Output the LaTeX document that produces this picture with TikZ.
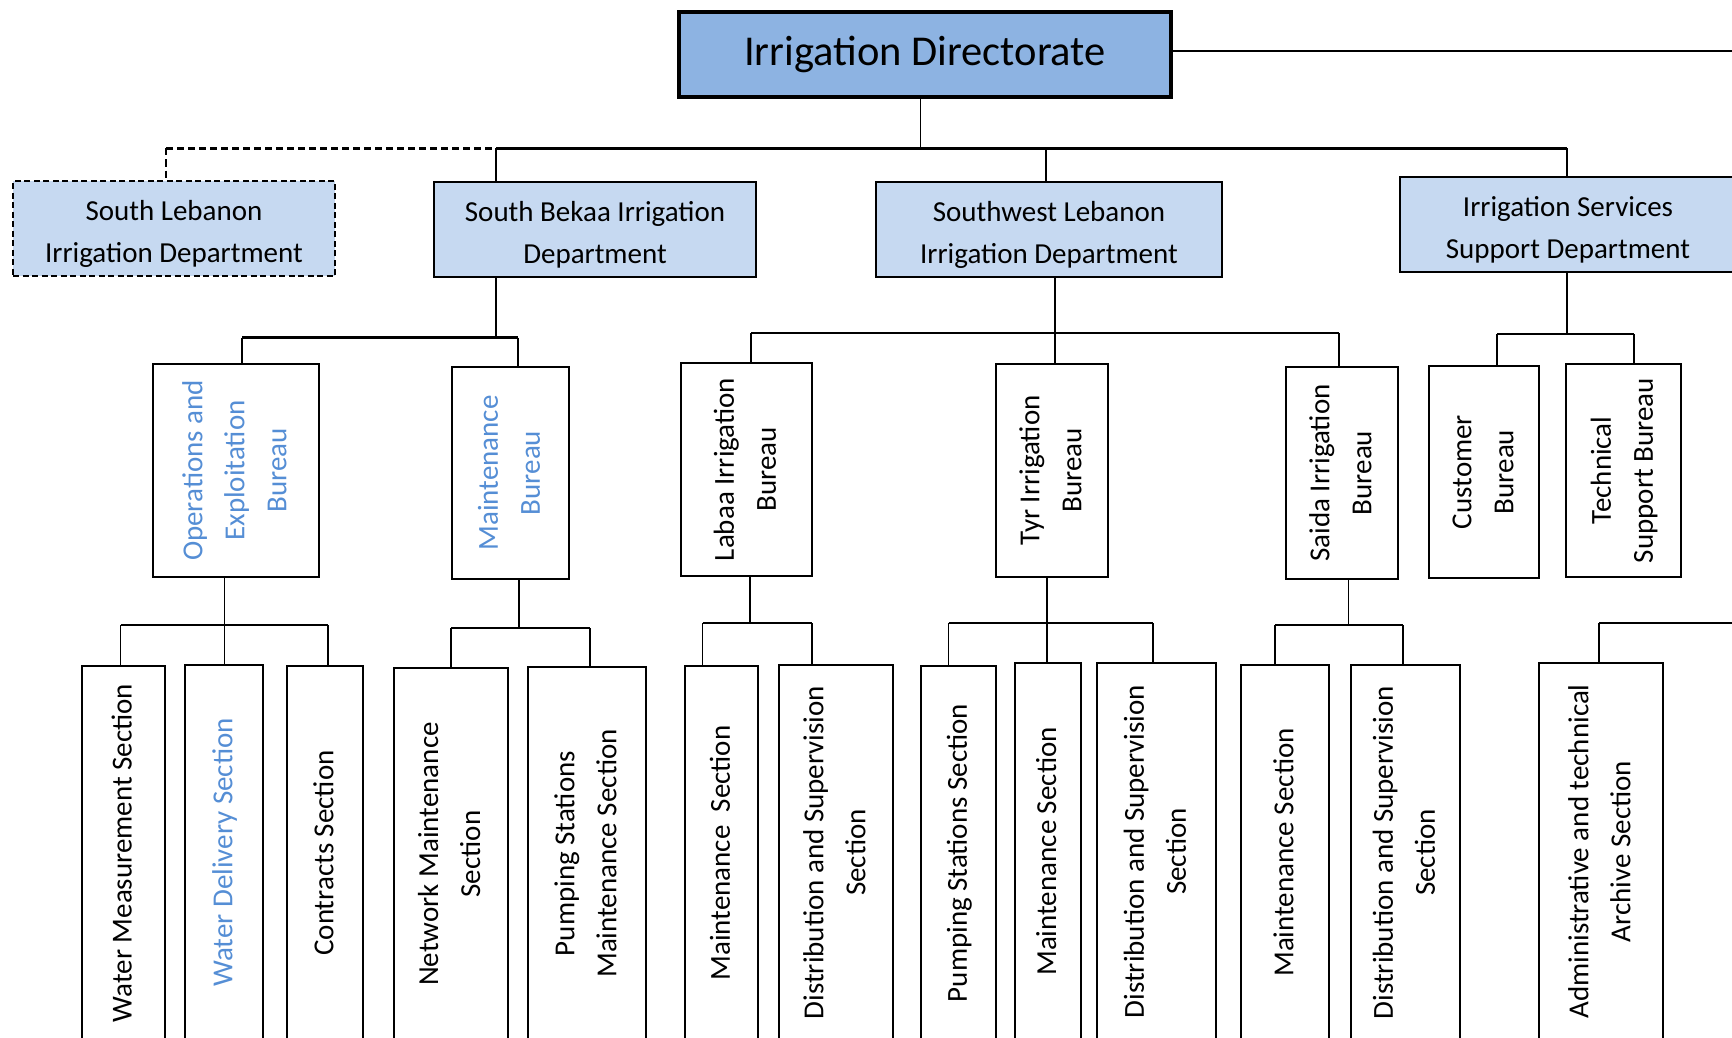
\documentclass[tikz,border=0pt]{standalone}
\usepackage{fontspec}
\setmainfont{Carlito}
\usepackage{graphicx}
\definecolor{titlefill}{HTML}{8DB3E2}
\definecolor{deptfill}{HTML}{C6D9F1}
\definecolor{bluetxt}{HTML}{558ED5}
\newcommand\orgrot[1]{\rotatebox{90}{\begin{tabular}{@{}c@{}}#1\end{tabular}}}
\newcommand\orglow[1]{\raisebox{-4.5pt}[\height][\depth]{\begin{tabular}{@{}c@{}}#1\end{tabular}}}
\begin{document}
\begin{tikzpicture}[x=1pt,y=-1pt,
  box/.style={draw, line width=2pt, inner sep=0pt, font=\fontsize{29}{42}\selectfont, align=center},
  dept/.style={box, fill=deptfill},
  vbox/.style={box, fill=white},
  conn/.style={line width=1.6pt},
  bus/.style={line width=2.6pt},
  dashconn/.style={line width=1.8pt, dash pattern=on 7pt off 4pt},
]
\useasboundingbox (0,0) rectangle (1732,1038);
\clip (0,0) rectangle (1732,1038);

% title
\node[box, line width=4pt, fill=titlefill, minimum width=492pt, minimum height=85pt,
      font=\fontsize{42.5}{50}\selectfont] (T) at (925,54.5) {Irrigation Directorate};

% departments
\node[dept, dash pattern=on 6pt off 3.5pt, minimum width=322pt, minimum height=95pt] (SL) at (174,228.5) {\orglow{South Lebanon\\Irrigation Department}};
\node[dept, minimum width=322pt, minimum height=95pt] (SB) at (595,229.5) {\orglow{South Bekaa Irrigation\\Department}};
\node[dept, minimum width=346pt, minimum height=95pt] (SW) at (1049,229.5) {\orglow{Southwest Lebanon\\Irrigation Department}};
\node[dept, minimum width=336pt, minimum height=95pt] (ISS) at (1568,224.5) {\orglow{Irrigation Services\\Support Department}};

% bureaus
\node[vbox, text=bluetxt, minimum width=166pt, minimum height=213pt] (OPS) at (236,470.5) {\orgrot{Operations and\\Exploitation\\Bureau}};
\node[vbox, text=bluetxt, minimum width=117pt, minimum height=212pt] (MB) at (510.5,473) {\orgrot{Maintenance\\Bureau}};
\node[vbox, minimum width=131pt, minimum height=213pt] (LAB) at (746.5,469.5) {\orgrot{Labaa Irrigation\\Bureau}};
\node[vbox, minimum width=112pt, minimum height=213pt] (TYR) at (1052,470.5) {\orgrot{Tyr Irrigation\\Bureau}};
\node[vbox, minimum width=112pt, minimum height=212pt] (SAI) at (1342,473) {\orgrot{Saida Irrigation\\Bureau}};
\node[vbox, minimum width=110pt, minimum height=212pt] (CUS) at (1484,472) {\orgrot{Customer\\Bureau}};
\node[vbox, minimum width=115pt, minimum height=213pt] (TEC) at (1623.5,470.5) {\orgrot{Technical\\Support Bureau}};

% sections
\node[vbox, minimum width=83.5pt, minimum height=374pt] (WM) at (123.25,853) {\orgrot{Water Measurement Section}};
\node[vbox, text=bluetxt, minimum width=78pt, minimum height=375pt] (WD) at (224,852.5) {\orgrot{Water Delivery Section}};
\node[vbox, minimum width=76pt, minimum height=374pt] (CON) at (325,853) {\orgrot{Contracts Section}};
\node[vbox, minimum width=113.5pt, minimum height=372pt] (NM) at (450.75,854) {\orgrot{Network Maintenance\\Section}};
\node[vbox, minimum width=118pt, minimum height=373pt] (PSM) at (587,853.5) {\orgrot{Pumping Stations\\Maintenance Section}};
\node[vbox, minimum width=73pt, minimum height=374pt] (LM) at (721.5,853) {\orgrot{Maintenance\ \ Section}};
\node[vbox, minimum width=114pt, minimum height=375pt] (LD) at (836,852.5) {\orgrot{Distribution and Supervision\\Section}};
\node[vbox, minimum width=75pt, minimum height=374pt] (PS) at (958.5,853) {\orgrot{Pumping Stations Section}};
\node[vbox, minimum width=65.5pt, minimum height=377pt] (TM) at (1047.75,851.5) {\orgrot{Maintenance Section}};
\node[vbox, minimum width=119pt, minimum height=377pt] (TD) at (1156.5,851.5) {\orgrot{Distribution and Supervision\\Section}};
\node[vbox, minimum width=88pt, minimum height=375pt] (SM) at (1285,852.5) {\orgrot{Maintenance Section}};
\node[vbox, minimum width=109pt, minimum height=375pt] (SD) at (1405.5,852.5) {\orgrot{Distribution and Supervision\\Section}};
\node[vbox, minimum width=124pt, minimum height=377pt] (ADM) at (1601,851.5) {\orgrot{Administrative and technical\\Archive Section}};

% top connectors
\coordinate (rt) at (1740,51);
\draw[bus] (T.east |- rt) -- (rt);
\coordinate (tb) at (920.5,148.5);
\coordinate (bsl) at (166,148.5);
\coordinate (bsb) at (496,148.5);
\coordinate (bsw) at (1046,148.5);
\coordinate (biss) at (1567,148.5);
\draw[conn] (T.south -| tb) -- (tb);
\draw[bus] (bsb) -- (biss);
\draw[dashconn, line width=2.4pt] (bsl) -- (bsb);
\draw[dashconn] (bsl) -- (SL.north -| bsl);
\draw[conn] (bsb) -- (SB.north -| bsb);
\draw[conn] (bsw) -- (SW.north -| bsw);
\draw[conn] (biss) -- (ISS.north -| biss);

% South Bekaa
\coordinate (kb0) at (496,337.5);
\coordinate (kb1) at (242,337.5);
\coordinate (kb2) at (518,337.5);
\draw[conn] (SB.south -| kb0) -- (kb0);
\draw[bus] (kb1) -- (kb2);
\draw[conn] (kb1) -- (OPS.north -| kb1);
\draw[conn] (kb2) -- (MB.north -| kb2);

% Southwest
\coordinate (sw0) at (1055,333);
\coordinate (sw1) at (751,333);
\coordinate (sw2) at (1339,333);
\draw[bus] (sw1) -- (sw2);
\draw[conn] (SW.south -| sw0) -- (TYR.north -| sw0);
\draw[conn] (sw1) -- (LAB.north -| sw1);
\draw[conn] (sw2) -- (SAI.north -| sw2);

% Services
\coordinate (is0) at (1567,334);
\coordinate (is1) at (1497,334);
\coordinate (is2) at (1634,334);
\draw[conn] (ISS.south -| is0) -- (is0);
\draw[bus] (is1) -- (is2);
\draw[conn] (is1) -- (CUS.north -| is1);
\draw[conn] (is2) -- (TEC.north -| is2);

% Operations
\coordinate (o0) at (224.5,625);
\coordinate (o1) at (120.5,625);
\coordinate (o2) at (328,625);
\draw[conn] (OPS.south -| o0) -- (WD.north -| o0);
\draw[conn] (o1) -- (o2);
\draw[conn] (o1) -- (WM.north -| o1);
\draw[conn] (o2) -- (CON.north -| o2);

% Maintenance bureau
\coordinate (m0) at (519,628);
\coordinate (m1) at (451,628);
\coordinate (m2) at (590,628);
\draw[conn] (MB.south -| m0) -- (m0);
\draw[conn] (m1) -- (m2);
\draw[conn] (m1) -- (NM.north -| m1);
\draw[conn] (m2) -- (PSM.north -| m2);

% Labaa
\coordinate (l0) at (750,623);
\coordinate (l1) at (702.5,623);
\coordinate (l2) at (812,623);
\draw[conn] (LAB.south -| l0) -- (l0);
\draw[conn] (l1) -- (l2);
\draw[conn] (l1) -- (LM.north -| l1);
\draw[conn] (l2) -- (LD.north -| l2);

% Tyr
\coordinate (t0) at (1047,623);
\coordinate (t1) at (948.5,623);
\coordinate (t2) at (1153,623);
\draw[conn] (TYR.south -| t0) -- (TM.north -| t0);
\draw[conn] (t1) -- (t2);
\draw[conn] (t1) -- (PS.north -| t1);
\draw[conn] (t2) -- (TD.north -| t2);

% Saida
\coordinate (s0) at (1348.5,625);
\coordinate (s1) at (1275,625);
\coordinate (s2) at (1403,625);
\draw[conn] (SAI.south -| s0) -- (s0);
\draw[conn] (s1) -- (s2);
\draw[conn] (s1) -- (SM.north -| s1);
\draw[conn] (s2) -- (SD.north -| s2);

% Archive
\coordinate (a1) at (1599,623);
\coordinate (a2) at (1740,623);
\draw[conn] (a1) -- (a2);
\draw[conn] (a1) -- (ADM.north -| a1);
\end{tikzpicture}
\end{document}
